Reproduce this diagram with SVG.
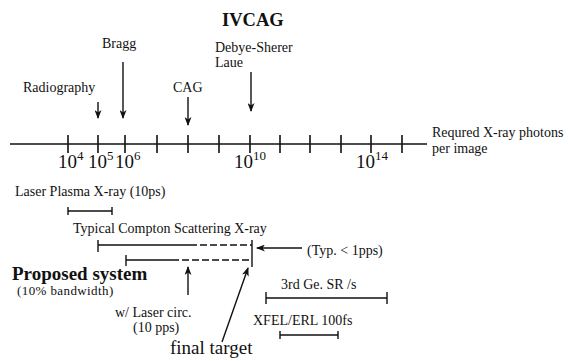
<svg xmlns="http://www.w3.org/2000/svg" width="568" height="361" viewBox="0 0 568 361">
<style>
text{font-family:"Liberation Serif","Times New Roman",serif;fill:#111;font-size:14px}
.big{font-size:19px}
.sup{font-size:13px}
.b{font-weight:bold}
.ln{stroke:#111;stroke-width:1.4;fill:none}
.ax{stroke:#111;stroke-width:1.6;fill:none}
.dash{stroke:#111;stroke-width:1.4;fill:none;stroke-dasharray:7 3}
.arr{stroke:#111;stroke-width:1.4;fill:none;marker-end:url(#ah)}
</style>
<defs>
<marker id="ah" markerWidth="9" markerHeight="7" refX="8" refY="3.5" orient="auto" markerUnits="userSpaceOnUse">
<path d="M0,0 L9,3.5 L0,7 L2.5,3.5 z" fill="#111"/>
</marker>
</defs>
<rect width="568" height="361" fill="#fff"/>

<g id="title"><text x="222" y="26" class="b" style="font-size:18.5px">IVCAG</text></g>

<g id="axis">
<path class="ax" d="M10,144 H427"/>
<path class="ax" d="M68,135 V153 M98,135 V153 M125,135 V153 M157,135 V153 M188,135 V153 M219,135 V153 M250,135 V153 M280,135 V153 M310,135 V153 M341,135 V153 M371,135 V153 M402,135 V153"/>
<text x="58" y="168" class="big">10<tspan class="sup" dy="-8">4</tspan></text>
<text x="88" y="168" class="big">10<tspan class="sup" dy="-8">5</tspan></text>
<text x="115" y="168" class="big">10<tspan class="sup" dy="-8">6</tspan></text>
<text x="234" y="168" class="big">10<tspan class="sup" dy="-8">10</tspan></text>
<text x="356" y="168" class="big">10<tspan class="sup" dy="-8">14</tspan></text>
<text x="432" y="137">Requred X-ray photons</text>
<text x="432" y="153">per image</text>
</g>

<g id="radiography">
<text x="23" y="92">Radiography</text>
</g>
<g id="bragg">
<text x="102" y="48">Bragg</text>
</g>
<g id="cag">
<text x="173" y="92">CAG</text>
</g>
<g id="debye">
<text x="215" y="52">Debye-Sherer</text>
<text x="215" y="67">Laue</text>
</g>

<g id="laser-plasma">
<text x="15" y="196">Laser Plasma X-ray (10ps)</text>
<path class="ln" d="M68,211 H112 M68,207 V215 M112,207 V215"/>
</g>

<g id="compton">
<text x="73" y="233">Typical Compton Scattering X-ray</text>
<path class="ln" d="M98,245 H190 M98,240 V252"/>
<path class="dash" d="M190,245 H252"/>
<path class="ln" d="M126,260 H172 M126,255 V266"/>
<path class="dash" d="M172,260 H252"/>
<path class="ln" d="M252,240 V267"/>
<text x="307" y="255">(Typ. &lt; 1pps)</text>
</g>

<g id="proposed">
<text x="12" y="280" class="b" style="font-size:19px">Proposed system</text>
<text x="17" y="295" style="font-size:13px;letter-spacing:0.4px">(10% bandwidth)</text>
<text x="115" y="317">w/ Laser circ.</text>
<text x="133" y="332">(10 pps)</text>
<text x="170" y="354" style="font-size:19px">final target</text>
</g>

<g id="sr">
<text x="281" y="289">3rd Ge. SR /s</text>
<path class="ln" d="M266,298 H387 M266,292 V304 M387,292 V304"/>
</g>
<g id="xfel">
<text x="253" y="325">XFEL/ERL 100fs</text>
<path class="ln" d="M280,335 H338 M280,331 V339 M338,331 V339"/>
</g>

<g id="connectors">
<path class="arr" d="M98,102 V118"/>
<path class="arr" d="M123,62 V118"/>
<path class="arr" d="M188,97 V125"/>
<path class="arr" d="M251,72 V111"/>
<path class="arr" d="M302,248 H257"/>
<path class="arr" d="M188,295 V267"/>
<path class="arr" d="M222,342 L248,268"/>
</g>
</svg>
